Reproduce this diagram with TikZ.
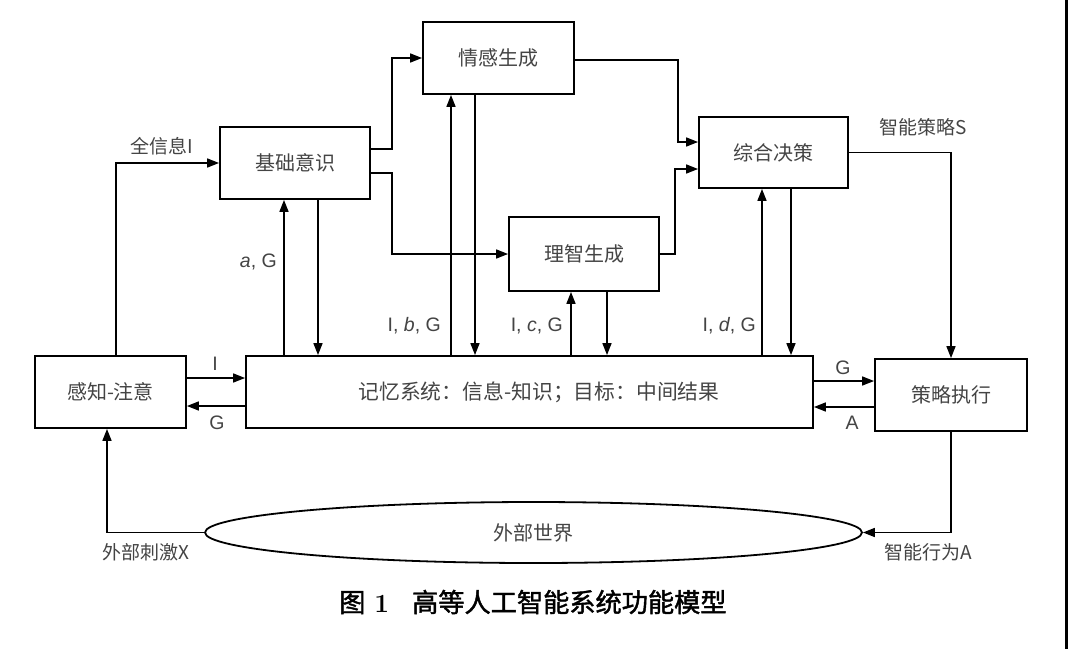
\documentclass[tikz,border=0pt]{standalone}
\usepackage{fontspec}
\setmainfont{Liberation Sans}
\newfontfamily\cjk{Noto Sans CJK SC}
\newfontfamily\cjkcap{Noto Sans CJK SC}[FakeBold=1.6]
\usetikzlibrary{arrows.meta,shapes.geometric}
\definecolor{txt}{HTML}{444444}
\begin{document}
\begin{tikzpicture}[x=1pt,y=-1pt,
  box/.style={draw, line width=1.8pt, text=txt, inner sep=0pt,
    font=\cjk\fontsize{20}{24}\selectfont},
  arr/.style={line width=1.6pt, -{Triangle[length=12pt,width=9pt]}},
  lbl/.style={text=txt, inner sep=0pt, font=\fontsize{19.5}{22}\selectfont},
  clbl/.style={text=txt, inner sep=0pt, font=\cjk\fontsize{19}{22}\selectfont}]
\useasboundingbox (0,0) rectangle (1068,649);
\fill[white] (0,0) rectangle (1068,649);
\fill[black] (1065,0) rectangle (1068,649);
% boxes
\node[box, minimum width=151pt, minimum height=72pt] (P) at (110.5,392) {感知-注意};
\node[box, minimum width=150pt, minimum height=72pt] (B) at (295,163) {基础意识};
\node[box, minimum width=567pt, minimum height=72pt] (M) at (529.5,392) {};
\node[box, draw=none, font=\cjk\fontsize{20.8}{24}\selectfont] (Mt) at (539,392) {记忆系统：信息-知识；目标：中间结果};
\node[box, minimum width=151pt, minimum height=72pt] (E) at (498.5,58) {情感生成};
\node[box, minimum width=150pt, minimum height=74pt] (R) at (584,254) {理智生成};
\node[box, minimum width=149pt, minimum height=71pt] (D) at (773.5,152.5) {综合决策};
\node[box, minimum width=152pt, minimum height=72pt] (S) at (951,395) {策略执行};
\node[box, ellipse, minimum width=657pt, minimum height=61pt] (W) at (533.5,532.5) {外部世界};
% connectors
\draw[arr] (116,0 |- P.north) |- (B.west);
\draw[arr] (P.east |- 0,378) -- (M.west |- 0,378);
\draw[arr] (M.west |- 0,406) -- (P.east |- 0,406);
\draw[arr] (284,0 |- M.north) -- (284,0 |- B.south);
\draw[arr] (318,0 |- B.south) -- (318,0 |- M.north);
\draw[arr] (B.east |- 0,149) -| (392,0 |- E.west) -- (E.west);
\draw[arr] (B.east |- 0,173) -| (392,0 |- R.west) -- (R.west);
\draw[arr] (451,0 |- M.north) -- (451,0 |- E.south);
\draw[arr] (475,0 |- E.south) -- (475,0 |- M.north);
\draw[arr] (571,0 |- M.north) -- (571,0 |- R.south);
\draw[arr] (607,0 |- R.south) -- (607,0 |- M.north);
\draw[arr] (E.east |- 0,60) -| (678,142) -- (D.west |- 0,142);
\draw[arr] (R.east) -| (675,169) -- (D.west |- 0,169);
\draw[arr] (762,0 |- M.north) -- (762,0 |- D.south);
\draw[arr] (791,0 |- D.south) -- (791,0 |- M.north);
\draw[arr] (D.east) -| (S.north);
\draw[arr] (M.east |- 0,381) -- (S.west |- 0,381);
\draw[arr] (S.west |- 0,407) -- (M.east |- 0,407);
\draw[arr] (S.south) |- (W.east);
\draw[arr] (W.west) -| (107,0 |- P.south);
% labels
\node[clbl] (l1) at (162,146) {全信息I};
\node[lbl] (l2) at (215,364) {I};
\node[lbl] (l3) at (217,423) {G};
\node[lbl, anchor=east] (l4) at (277,262) {\textit{a}, G};
\node[lbl, anchor=east] (l5) at (441,326) {I, \textit{b}, G};
\node[lbl, anchor=east] (l6) at (563,326) {I, \textit{c}, G};
\node[lbl, anchor=east] (l7) at (756,326) {I, \textit{d}, G};
\node[clbl] (l8) at (923,127) {智能策略S};
\node[lbl] (l9) at (843,368) {G};
\node[lbl] (l10) at (852,423) {A};
\node[clbl] (l11) at (146,552) {外部刺激X};
\node[clbl] (l12) at (928,552) {智能行为A};
\node[inner sep=0pt, anchor=west, font=\cjkcap\fontsize{26.2}{30}\selectfont] (cap) at (339,602)
  {图\hspace{9pt}{\fontspec{Latin Modern Roman}[FakeBold=0]\bfseries 1}\hspace{23pt}高等人工智能系统功能模型};
\end{tikzpicture}
\end{document}
